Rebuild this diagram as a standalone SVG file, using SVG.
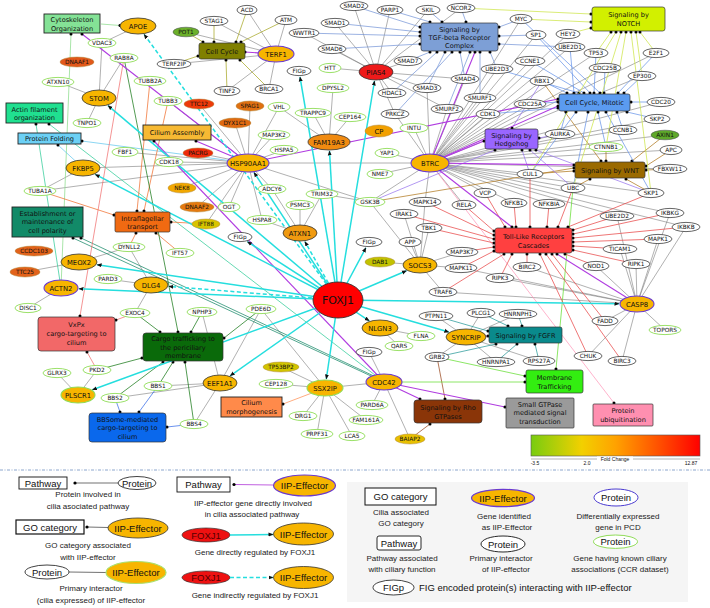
<svg xmlns="http://www.w3.org/2000/svg" width="710" height="608" viewBox="0 0 710 608">
<defs>
<marker id="dot" viewBox="0 0 4 4" refX="2" refY="2" markerWidth="3.4" markerHeight="3.4" markerUnits="userSpaceOnUse"><circle cx="2" cy="2" r="1.8" fill="#000"/></marker>
<marker id="arr" viewBox="0 0 10 10" refX="9" refY="5" markerWidth="5" markerHeight="5" markerUnits="userSpaceOnUse" orient="auto"><path d="M0,1L10,5L0,9z" fill="#111"/></marker>
<linearGradient id="fc" x1="0" x2="1" y1="0" y2="0">
<stop offset="0" stop-color="#78cc10"/><stop offset="0.3" stop-color="#f2d000"/><stop offset="0.5" stop-color="#ffa200"/><stop offset="0.75" stop-color="#ff5200"/><stop offset="1" stop-color="#ff0000"/>
</linearGradient>
</defs>
<style>
text{font-family:"DejaVu Sans",sans-serif;text-anchor:middle;fill:#111}
.t{font-size:5.8px}
.ti{font-size:6.8px}
.tb{font-size:6.6px}
.p{fill:#fff;stroke:#222;stroke-width:.7}
.c{fill:#fff;stroke:#90dc58;stroke-width:.9}
.e{fill:#f7b500;stroke:#333;stroke-width:.8}
.ep{fill:#f7b500;stroke:#6a3ad0;stroke-width:1.1}
.eg{fill:#f7b500;stroke:#90dc58;stroke-width:1.1}
.fcn{stroke:#b08a40;stroke-width:.5}
.go{stroke:#222;stroke-width:.9}
.pw{stroke:#333;stroke-width:.7}
.gr{fill:none;stroke:#707070;stroke-width:.55}
.k{fill:none;marker-end:url(#dot)}
.k line{stroke-width:.75}
.olive{stroke:#a8a828}.cyto{stroke:#8cdc8c}.actin{stroke:#33cc99}.pf{stroke:#66c8ee}.ift{stroke:#f07030}
.pol{stroke:#1a8a6a}.vx{stroke:#f07070}.cargo{stroke:#1a7a1a}.bbs{stroke:#3a6ee8}.cm{stroke:#ff9055}
.rho{stroke:#9a4a20}.mem{stroke:#66dd33}.fgfr{stroke:#2a9a9a}.ubi{stroke:#ff99bb}.tlr{stroke:#e84848}
.wnt{stroke:#b07a20}.hh{stroke:#9a77ee}.mit{stroke:#6a96e8}.notch{stroke:#cde64a}.tgf{stroke:#7a98d8}
.pu{stroke:#b03ce0}
.pu line{stroke-width:1.1}
.cy{stroke:#25dede;stroke-width:1.5;marker-end:url(#arr);fill:none}
.cyd{stroke-dasharray:4 2.5}
.lb{font-family:"Liberation Sans",Arial,sans-serif;font-size:9.5px}
.ld{font-family:"Liberation Sans",Arial,sans-serif;font-size:8px;fill:#222}
.fb{font-family:"Liberation Sans",Arial,sans-serif;font-size:5px}
</style>
<rect width="710" height="608" fill="#fff"/>
<g id="connectors">
<path class="gr" d="M276,54L247,10M276,54L286,20M276,54L214,21M276,54L186,32M276,54L174,64M276,54L227,91M276,54L269,89M138,26L102,43M99,98L102,43M99,98L124,58M99,98L58,82M99,98L87,123M248,163L169,162M248,163L199,104M248,163L250,106M248,163L235,123M248,163L198,153M248,163L279,107M248,163L274,135M248,163L284,150M248,163L229,207M248,163L197,207M248,163L182,188M248,163L262,220M248,163L272,189M248,163L168,101M248,163L125,152M248,163L40,191M248,163L83,168M248,163L430,163M248,163L206,224M248,163L370,202M83,168L40,191M329,142L279,107M329,142L313,113M329,142L350,117M329,142L333,88M376,72L354,6M376,72L335,23M376,72L332,49M376,72L408,61M376,72L390,10M376,72L428,10M376,72L330,68M376,72L304,33M376,72L392,93M376,72L427,88M376,72L465,79M376,72L395,114M376,72L447,109M376,72L461,8M430,163L427,88M430,163L465,79M430,163L447,109M430,163L480,98M430,163L497,69M430,163L570,47M430,163L530,61M430,163L530,104M430,163L488,114M430,163L542,81M430,163L530,174M430,163L651,193M430,163L573,188M430,163L670,169M430,163L514,203M430,163L549,204M430,163L485,193M430,163L464,205M430,163L425,202M430,163L370,202M430,163L606,147M430,163L671,150M430,163L665,135M430,163L657,119M430,163L661,102M430,163L623,130M430,163L560,134M430,163L617,216M430,163L670,213M430,163L686,227M430,163L605,68M430,163L596,53M430,163L642,76M430,163L521,19M430,163L536,35M430,163L568,34M430,163L395,114M430,163L387,153M430,163L414,128M430,163L380,174M430,163L656,53M300,233L272,189M300,233L300,205M300,233L322,194M300,233L262,220M370,202L322,194M370,202L420,265M420,265L410,242M420,265L429,228M420,265L404,214M420,265L462,252M420,265L461,268M420,265L443,292M420,265L380,262M420,265L425,202M637,304L605,321M637,304L665,330M637,304L636,264M637,304L620,249M637,304L596,266M637,304L658,239M637,304L686,227M637,304L670,213M637,304L527,267M637,304L622,361M637,304L588,356M637,304L500,278M637,304L443,292M637,304L461,268M637,304L617,216M466,337L436,316M466,337L437,357M466,337L496,362M466,337L518,314M466,337L481,313M466,337L539,361M380,328L421,336M380,328L399,346M384,382L369,352M384,382L372,405M384,382L410,439M384,382L325,388M325,388L281,367M325,388L276,384M325,388L303,416M325,388L317,434M325,388L352,436M325,388L366,420M325,388L261,309M220,383L158,386M220,383L115,398M220,383L194,424M220,383L202,312M220,383L261,309M151,285L108,279M151,285L129,247M151,285L135,313M79,262L25,272M79,262L129,247M61,288L28,308M78,395L97,370M78,395L57,373"/>
<g class="k olive"><line x1="214" y1="21" x2="214" y2="42"/><line x1="247" y1="10" x2="236" y2="42"/><line x1="286" y1="20" x2="241" y2="42"/><line x1="186" y1="32" x2="203" y2="42"/><line x1="174" y1="64" x2="198" y2="56"/><line x1="227" y1="91" x2="226" y2="60"/><line x1="269" y1="89" x2="240" y2="60"/></g>
<g class="k cyto"><line x1="101" y1="24" x2="120" y2="25.5"/><line x1="61" y1="288" x2="71" y2="34"/></g>
<g class="k actin"><line x1="61" y1="288" x2="36" y2="124"/><line x1="384" y1="382" x2="49" y2="124"/></g>
<g class="k pf"><line x1="248" y1="163" x2="82" y2="141"/><line x1="83" y1="168" x2="58" y2="145"/></g>
<g class="k ift"><line x1="150" y1="81" x2="137" y2="211"/><line x1="168" y1="101" x2="144" y2="211"/><line x1="206" y1="224" x2="171" y2="222"/><line x1="40" y1="191" x2="114" y2="215"/><line x1="129" y1="247" x2="136" y2="233"/><line x1="180" y1="253" x2="156" y2="233"/></g>
<g class="k pol"><line x1="384" y1="382" x2="73" y2="238"/><line x1="378" y1="378" x2="81" y2="238"/></g>
<g class="k vx"><line x1="124" y1="58" x2="80" y2="316"/><line x1="135" y1="313" x2="116" y2="320"/><line x1="97" y1="370" x2="87" y2="352"/></g>
<g class="k cargo"><line x1="124" y1="58" x2="178" y2="332"/><line x1="135" y1="313" x2="160" y2="332"/><line x1="202" y1="312" x2="191" y2="332"/><line x1="261" y1="309" x2="224" y2="338"/><line x1="97" y1="370" x2="142" y2="358"/><line x1="158" y1="386" x2="173" y2="362"/><line x1="115" y1="398" x2="163" y2="362"/><line x1="194" y1="424" x2="185" y2="362"/></g>
<g class="k bbs"><line x1="115" y1="398" x2="120" y2="412"/><line x1="158" y1="386" x2="139" y2="412"/><line x1="194" y1="424" x2="167" y2="427"/></g>
<g class="k cm"><line x1="325" y1="388" x2="283" y2="404"/></g>
<g class="k rho"><line x1="437" y1="357" x2="445" y2="399"/><line x1="410" y1="439" x2="430" y2="424"/></g>
<g class="k mem"><line x1="384" y1="382" x2="525" y2="382"/><line x1="437" y1="357" x2="525" y2="376"/><line x1="573" y1="188" x2="556" y2="369"/></g>
<g class="k fgfr"><line x1="481" y1="313" x2="508" y2="326"/><line x1="518" y1="314" x2="522" y2="326"/><line x1="496" y1="362" x2="517" y2="344"/><line x1="539" y1="361" x2="535" y2="344"/><line x1="437" y1="357" x2="496" y2="344"/><line x1="436" y1="316" x2="488" y2="331"/></g>
<g class="k ubi"><line x1="430" y1="163" x2="614" y2="403"/></g>
<g class="k tlr"><line x1="530" y1="174" x2="530" y2="227"/><line x1="514" y1="203" x2="516" y2="227"/><line x1="549" y1="204" x2="547" y2="227"/><line x1="485" y1="193" x2="505" y2="227"/><line x1="573" y1="188" x2="558" y2="227"/><line x1="651" y1="193" x2="568" y2="227"/><line x1="617" y1="216" x2="573" y2="230"/><line x1="670" y1="213" x2="573" y2="234"/><line x1="686" y1="227" x2="573" y2="238"/><line x1="658" y1="239" x2="573" y2="242"/><line x1="620" y1="249" x2="573" y2="246"/><line x1="636" y1="264" x2="573" y2="250"/><line x1="596" y1="266" x2="565" y2="254"/><line x1="605" y1="321" x2="552" y2="254"/><line x1="622" y1="361" x2="546" y2="254"/><line x1="588" y1="356" x2="540" y2="254"/><line x1="527" y1="267" x2="527" y2="254"/><line x1="500" y1="278" x2="512" y2="254"/><line x1="443" y1="292" x2="504" y2="254"/><line x1="461" y1="268" x2="494" y2="251"/><line x1="462" y1="252" x2="494" y2="247"/><line x1="429" y1="228" x2="494" y2="243"/><line x1="404" y1="214" x2="494" y2="239"/><line x1="425" y1="202" x2="494" y2="235"/><line x1="464" y1="205" x2="494" y2="231"/></g>
<g class="k wnt"><line x1="530" y1="174" x2="574" y2="171"/><line x1="370" y1="202" x2="574" y2="168"/><line x1="573" y1="188" x2="590" y2="179"/><line x1="651" y1="193" x2="626" y2="179"/><line x1="670" y1="169" x2="646" y2="170"/><line x1="665" y1="135" x2="632" y2="161"/><line x1="671" y1="150" x2="646" y2="166"/><line x1="606" y1="147" x2="606" y2="161"/><line x1="542" y1="81" x2="601" y2="161"/></g>
<g class="k hh"><line x1="542" y1="81" x2="512" y2="128"/><line x1="530" y1="174" x2="522" y2="150"/><line x1="651" y1="193" x2="536" y2="150"/><line x1="573" y1="188" x2="530" y2="150"/><line x1="370" y1="202" x2="495" y2="150"/><line x1="560" y1="134" x2="539" y2="138"/></g>
<g class="k mit"><line x1="570" y1="47" x2="574" y2="93"/><line x1="596" y1="53" x2="594" y2="93"/><line x1="605" y1="68" x2="604" y2="93"/><line x1="530" y1="61" x2="584" y2="93"/><line x1="542" y1="81" x2="567" y2="93"/><line x1="656" y1="53" x2="618" y2="93"/><line x1="642" y1="76" x2="624" y2="93"/><line x1="521" y1="19" x2="600" y2="93"/><line x1="536" y1="35" x2="590" y2="93"/><line x1="497" y1="69" x2="579" y2="93"/><line x1="530" y1="104" x2="558" y2="102"/><line x1="488" y1="114" x2="558" y2="108"/><line x1="661" y1="102" x2="631" y2="102"/><line x1="657" y1="119" x2="627" y2="112"/><line x1="623" y1="130" x2="617" y2="112"/><line x1="560" y1="134" x2="566" y2="112"/><line x1="530" y1="174" x2="576" y2="112"/><line x1="651" y1="193" x2="606" y2="112"/><line x1="573" y1="188" x2="588" y2="112"/><line x1="606" y1="147" x2="598" y2="112"/></g>
<g class="k notch"><line x1="461" y1="8" x2="591" y2="14"/><line x1="521" y1="19" x2="591" y2="22"/><line x1="568" y1="34" x2="591" y2="28"/><line x1="596" y1="53" x2="611" y2="32"/><line x1="656" y1="53" x2="640" y2="32"/><line x1="642" y1="76" x2="636" y2="32"/><line x1="530" y1="174" x2="616" y2="32"/><line x1="573" y1="188" x2="621" y2="32"/><line x1="651" y1="193" x2="631" y2="32"/><line x1="606" y1="147" x2="626" y2="32"/></g>
<g class="k tgf"><line x1="354" y1="6" x2="420" y2="27"/><line x1="390" y1="10" x2="430" y2="22"/><line x1="428" y1="10" x2="442" y2="22"/><line x1="461" y1="8" x2="466" y2="22"/><line x1="521" y1="19" x2="499" y2="27"/><line x1="536" y1="35" x2="499" y2="36"/><line x1="335" y1="23" x2="420" y2="32"/><line x1="304" y1="33" x2="420" y2="36"/><line x1="332" y1="49" x2="420" y2="44"/><line x1="408" y1="61" x2="430" y2="52"/><line x1="392" y1="93" x2="437" y2="52"/><line x1="427" y1="88" x2="445" y2="52"/><line x1="395" y1="114" x2="452" y2="52"/><line x1="465" y1="79" x2="460" y2="52"/><line x1="447" y1="109" x2="470" y2="52"/><line x1="480" y1="98" x2="480" y2="52"/><line x1="497" y1="69" x2="490" y2="52"/><line x1="570" y1="47" x2="499" y2="44"/></g>
<g class="k pu"><line x1="276" y1="54" x2="245" y2="52"/><line x1="248" y1="163" x2="82" y2="34"/><line x1="384" y1="382" x2="154" y2="141"/><line x1="248" y1="163" x2="196" y2="141"/><line x1="384" y1="382" x2="420" y2="399"/><line x1="384" y1="382" x2="505" y2="407"/><line x1="466" y1="337" x2="488" y2="336"/><line x1="637" y1="304" x2="557" y2="254"/><line x1="430" y1="163" x2="512" y2="227"/><line x1="430" y1="163" x2="574" y2="165"/><line x1="430" y1="163" x2="484" y2="141"/><line x1="430" y1="163" x2="558" y2="106"/><line x1="248" y1="163" x2="558" y2="99"/><line x1="430" y1="163" x2="475" y2="52"/></g>
<g class="cy"><line x1="338" y1="300" x2="300" y2="77"/><line x1="338" y1="300" x2="374.5" y2="81"/><line x1="338" y1="300" x2="329.5" y2="151"/><line x1="338" y1="300" x2="254" y2="172.5"/><line x1="338" y1="300" x2="108" y2="105.6"/><line x1="338" y1="300" x2="95.3" y2="174.4"/><line x1="338" y1="300" x2="97.1" y2="264.7"/><line x1="338" y1="300" x2="79" y2="288.8"/><line x1="338" y1="300" x2="92.4" y2="389.8"/><line x1="338" y1="300" x2="230.2" y2="375.8"/><line x1="338" y1="300" x2="326.3" y2="379"/><line x1="338" y1="300" x2="369.2" y2="320.8"/><line x1="338" y1="300" x2="448.8" y2="332"/><line x1="338" y1="300" x2="619" y2="303.8"/><line x1="338" y1="300" x2="406.5" y2="270.8"/><line x1="338" y1="300" x2="365.9" y2="247.8"/><line x1="338" y1="300" x2="247.4" y2="241.7"/></g>
<g class="cy cyd"><line x1="338" y1="300" x2="144.1" y2="34.4"/><line x1="338" y1="300" x2="304.9" y2="241.6"/><line x1="338" y1="300" x2="168.8" y2="286.4"/></g>
</g>
<g id="nodes">
<g id="cyto"><rect class="go" x="44" y="14" width="56" height="19" fill="#84e296"/><text class="tb" x="72" y="22">Cytoskeleton</text><text class="tb" x="72" y="30.5">Organization</text></g>
<g id="notch"><rect class="pw" x="592" y="7" width="73" height="24" rx="2.5" fill="#d2f000"/><text class="tb" x="628.5" y="17">Signaling by</text><text class="tb" x="628.5" y="26">NOTCH</text></g>
<g id="cellcycle"><rect class="pw" x="199" y="43" width="46" height="16" rx="2" fill="#808000"/><text class="tb" x="222" y="53.5">Cell Cycle</text></g>
<g id="tgf"><rect class="pw" x="421" y="23" width="77" height="28" rx="2.5" fill="#7d9fd6"/><text class="tb" x="459.5" y="31.5">Signaling by</text><text class="tb" x="459.5" y="39.5">TGF-beta Receptor</text><text class="tb" x="459.5" y="47.5">Complex</text></g>
<g id="mitotic"><rect class="pw" x="559" y="94" width="71" height="17" rx="2" fill="#5b9bf0"/><text class="tb" x="594.5" y="104.8">Cell Cycle, Mitotic</text></g>
<g id="hedgehog"><rect class="pw" x="485" y="129" width="53" height="20" rx="2" fill="#9966ff"/><text class="tb" x="511.5" y="137.5">Signaling by</text><text class="tb" x="511.5" y="146">Hedgehog</text></g>
<g id="wnt"><rect class="pw" x="575" y="162" width="70" height="16" rx="2" fill="#9a6a00"/><text class="tb" x="610" y="172.5">Signaling by WNT</text></g>
<g id="tlr"><rect class="pw" x="495" y="228" width="77" height="25" rx="2.5" fill="#ff4040"/><text class="tb" x="533.5" y="239">Toll-Like Receptors</text><text class="tb" x="533.5" y="248">Cascades</text></g>
<g id="cilasm"><rect class="go" x="143" y="125" width="68" height="15" fill="#f6b933"/><text class="tb" x="177" y="135">Cilium Assembly</text></g>
<g id="actin"><rect class="go" x="6" y="103" width="57" height="20" fill="#20e090"/><text class="tb" x="34.5" y="111.5">Actin filament</text><text class="tb" x="34.5" y="120">organization</text></g>
<g id="protfold"><rect class="go" x="18" y="133" width="63" height="11" fill="#6cd0f5"/><text class="tb" x="49.5" y="141">Protein Folding</text></g>
<g id="ift"><rect class="pw" x="115" y="212" width="55" height="20" rx="1.5" fill="#f06a12"/><text class="tb" x="142.5" y="220.5">Intraflagellar</text><text class="tb" x="142.5" y="229">transport</text></g>
<g id="polarity"><rect class="go" x="12" y="207" width="71" height="30" fill="#128a68"/><text class="tb" x="47.5" y="215.5">Establishment or</text><text class="tb" x="47.5" y="224.2">maintenance of</text><text class="tb" x="47.5" y="233">cell polarity</text></g>
<g id="vxpx"><rect class="pw" x="38" y="317" width="77" height="34" rx="3" fill="#f26868"/><text class="tb" x="76.5" y="326.5">VxPx</text><text class="tb" x="76.5" y="335.5">cargo-targeting to</text><text class="tb" x="76.5" y="344.5">cilium</text></g>
<g id="cargo"><rect class="pw" x="143" y="333" width="80" height="28" rx="3" fill="#0a6a0a"/><text class="tb" x="183" y="341">Cargo trafficking to</text><text class="tb" x="183" y="349.5">the periciliary</text><text class="tb" x="183" y="358">membrane</text></g>
<g id="bbsome"><rect class="pw" x="89" y="413" width="77" height="29" rx="3" fill="#0a68ec"/><text class="tb" x="127.5" y="421.5">BBSome-mediated</text><text class="tb" x="127.5" y="430">cargo-targeting to</text><text class="tb" x="127.5" y="438.5">cilium</text></g>
<g id="cilmorph"><rect class="go" x="221" y="397" width="61" height="20" fill="#ff8a4a"/><text class="tb" x="251.5" y="405">Cilium</text><text class="tb" x="251.5" y="414">morphogenesis</text></g>
<g id="rho"><rect class="pw" x="414" y="400" width="68" height="23" rx="3" fill="#8a3508"/><text class="tb" x="448" y="409.5">Signaling by Rho</text><text class="tb" x="448" y="418.5">GTPases</text></g>
<g id="fgfr"><rect class="pw" x="489" y="327" width="73" height="16" rx="2" fill="#0a8a8c"/><text class="tb" x="525.5" y="337.5">Signaling by FGFR</text></g>
<g id="memtraf"><rect class="pw" x="526" y="370" width="57" height="23" rx="2" fill="#33ee11"/><text class="tb" x="554.5" y="379.5">Membrane</text><text class="tb" x="554.5" y="388.5">Trafficking</text></g>
<g id="smallgtp"><rect class="pw" x="506" y="398" width="68" height="30" rx="1" fill="#9a9a9a"/><text class="tb" x="540" y="406.5">Small GTPase</text><text class="tb" x="540" y="415.2">mediated signal</text><text class="tb" x="540" y="424">transduction</text></g>
<g id="protubi"><rect class="pw" x="593" y="404" width="60" height="22" rx="1" fill="#ff8fb0"/><text class="tb" x="623" y="413">Protein</text><text class="tb" x="623" y="422">ubiquitination</text></g>
<g id="n_ACD"><ellipse class="p" cx="247" cy="10" rx="10" ry="4.6"/><text class="t" x="247" y="12">ACD</text></g>
<g id="n_STAG1"><ellipse class="p" cx="214" cy="21" rx="14" ry="4.6"/><text class="t" x="214" y="23">STAG1</text></g>
<g id="n_ATM"><ellipse class="p" cx="286" cy="20" rx="11" ry="4.6"/><text class="t" x="286" y="22">ATM</text></g>
<g id="n_SMAD2"><ellipse class="p" cx="354" cy="6" rx="14" ry="4.6"/><text class="t" x="354" y="8">SMAD2</text></g>
<g id="n_PARP1"><ellipse class="p" cx="390" cy="10" rx="13" ry="4.6"/><text class="t" x="390" y="12">PARP1</text></g>
<g id="n_SKIL"><ellipse class="p" cx="428" cy="10" rx="12" ry="4.6"/><text class="t" x="428" y="12">SKIL</text></g>
<g id="n_NCOR2"><ellipse class="p" cx="461" cy="8" rx="14" ry="4.6"/><text class="t" x="461" y="10">NCOR2</text></g>
<g id="n_MYC"><ellipse class="p" cx="521" cy="19" rx="11" ry="4.6"/><text class="t" x="521" y="21">MYC</text></g>
<g id="n_SMAD1"><ellipse class="p" cx="335" cy="23" rx="14" ry="4.6"/><text class="t" x="335" y="25">SMAD1</text></g>
<g id="n_WWTR1"><ellipse class="p" cx="304" cy="33" rx="15" ry="4.6"/><text class="t" x="304" y="35">WWTR1</text></g>
<g id="n_SMAD6"><ellipse class="p" cx="332" cy="49" rx="14" ry="4.6"/><text class="t" x="332" y="51">SMAD6</text></g>
<g id="n_SMAD7"><ellipse class="p" cx="408" cy="61" rx="14" ry="4.6"/><text class="t" x="408" y="63">SMAD7</text></g>
<g id="n_SP1"><ellipse class="p" cx="536" cy="35" rx="10" ry="4.6"/><text class="t" x="536" y="37">SP1</text></g>
<g id="n_HEY2"><ellipse class="p" cx="568" cy="34" rx="12" ry="4.6"/><text class="t" x="568" y="36">HEY2</text></g>
<g id="n_UBE2D1"><ellipse class="p" cx="570" cy="47" rx="15" ry="4.6"/><text class="t" x="570" y="49">UBE2D1</text></g>
<g id="n_TP53"><ellipse class="p" cx="596" cy="53" rx="12" ry="4.6"/><text class="t" x="596" y="55">TP53</text></g>
<g id="n_E2F1"><ellipse class="p" cx="656" cy="53" rx="13" ry="4.6"/><text class="t" x="656" y="55">E2F1</text></g>
<g id="n_CDC25B"><ellipse class="p" cx="605" cy="68" rx="16" ry="4.6"/><text class="t" x="605" y="70">CDC25B</text></g>
<g id="n_CCNE1"><ellipse class="p" cx="530" cy="61" rx="15" ry="4.6"/><text class="t" x="530" y="63">CCNE1</text></g>
<g id="n_UBE2D3"><ellipse class="p" cx="497" cy="69" rx="16" ry="4.6"/><text class="t" x="497" y="71">UBE2D3</text></g>
<g id="n_EP300"><ellipse class="p" cx="642" cy="76" rx="14" ry="4.6"/><text class="t" x="642" y="78">EP300</text></g>
<g id="n_RBX1"><ellipse class="p" cx="542" cy="81" rx="12" ry="4.6"/><text class="t" x="542" y="83">RBX1</text></g>
<g id="n_SMAD4"><ellipse class="p" cx="465" cy="79" rx="14" ry="4.6"/><text class="t" x="465" y="81">SMAD4</text></g>
<g id="n_SMAD3"><ellipse class="p" cx="427" cy="88" rx="14" ry="4.6"/><text class="t" x="427" y="90">SMAD3</text></g>
<g id="n_HDAC1"><ellipse class="p" cx="392" cy="93" rx="14" ry="4.6"/><text class="t" x="392" y="95">HDAC1</text></g>
<g id="n_FIGp1"><ellipse class="p" cx="299" cy="71" rx="12" ry="4.6"/><text class="t" x="299" y="73">FIGp</text></g>
<g id="n_BRCA1"><ellipse class="p" cx="269" cy="89" rx="14" ry="4.6"/><text class="t" x="269" y="91">BRCA1</text></g>
<g id="n_TINF2"><ellipse class="p" cx="227" cy="91" rx="13" ry="4.6"/><text class="t" x="227" y="93">TINF2</text></g>
<g id="n_TERF2IP"><ellipse class="p" cx="174" cy="64" rx="17" ry="4.6"/><text class="t" x="174" y="66">TERF2IP</text></g>
<g id="n_SMURF2"><ellipse class="p" cx="447" cy="109" rx="16" ry="4.6"/><text class="t" x="447" y="111">SMURF2</text></g>
<g id="n_SMURF1"><ellipse class="p" cx="480" cy="98" rx="16" ry="4.6"/><text class="t" x="480" y="100">SMURF1</text></g>
<g id="n_CDK1"><ellipse class="p" cx="488" cy="114" rx="12" ry="4.6"/><text class="t" x="488" y="116">CDK1</text></g>
<g id="n_CDC25A"><ellipse class="p" cx="530" cy="104" rx="16" ry="4.6"/><text class="t" x="530" y="106">CDC25A</text></g>
<g id="n_CDC20"><ellipse class="p" cx="661" cy="102" rx="14" ry="4.6"/><text class="t" x="661" y="104">CDC20</text></g>
<g id="n_SKP2"><ellipse class="p" cx="657" cy="119" rx="13" ry="4.6"/><text class="t" x="657" y="121">SKP2</text></g>
<g id="n_APC"><ellipse class="p" cx="671" cy="150" rx="11" ry="4.6"/><text class="t" x="671" y="152">APC</text></g>
<g id="n_CCNB1"><ellipse class="p" cx="623" cy="130" rx="14" ry="4.6"/><text class="t" x="623" y="132">CCNB1</text></g>
<g id="n_AURKA"><ellipse class="p" cx="560" cy="134" rx="15" ry="4.6"/><text class="t" x="560" y="136">AURKA</text></g>
<g id="n_PRKCZ"><ellipse class="p" cx="395" cy="114" rx="14" ry="4.6"/><text class="t" x="395" y="116">PRKCZ</text></g>
<g id="n_FIGp2"><ellipse class="p" cx="240" cy="237" rx="12" ry="4.6"/><text class="t" x="240" y="239">FIGp</text></g>
<g id="n_FIGp3"><ellipse class="p" cx="369" cy="242" rx="13" ry="4.6"/><text class="t" x="369" y="244">FIGp</text></g>
<g id="n_MAPK14"><ellipse class="p" cx="425" cy="202" rx="16" ry="4.6"/><text class="t" x="425" y="204">MAPK14</text></g>
<g id="n_IRAK1"><ellipse class="p" cx="404" cy="214" rx="14" ry="4.6"/><text class="t" x="404" y="216">IRAK1</text></g>
<g id="n_RELA"><ellipse class="p" cx="464" cy="205" rx="12" ry="4.6"/><text class="t" x="464" y="207">RELA</text></g>
<g id="n_TBK1"><ellipse class="p" cx="429" cy="228" rx="13" ry="4.6"/><text class="t" x="429" y="230">TBK1</text></g>
<g id="n_APP"><ellipse class="p" cx="410" cy="242" rx="11" ry="4.6"/><text class="t" x="410" y="244">APP</text></g>
<g id="n_MAP3K7"><ellipse class="p" cx="462" cy="252" rx="16" ry="4.6"/><text class="t" x="462" y="254">MAP3K7</text></g>
<g id="n_MAPK11"><ellipse class="p" cx="461" cy="268" rx="16" ry="4.6"/><text class="t" x="461" y="270">MAPK11</text></g>
<g id="n_TRAF6"><ellipse class="p" cx="443" cy="292" rx="14" ry="4.6"/><text class="t" x="443" y="294">TRAF6</text></g>
<g id="n_VCP"><ellipse class="p" cx="485" cy="193" rx="11" ry="4.6"/><text class="t" x="485" y="195">VCP</text></g>
<g id="n_CUL1"><ellipse class="p" cx="530" cy="174" rx="13" ry="4.6"/><text class="t" x="530" y="176">CUL1</text></g>
<g id="n_UBC"><ellipse class="p" cx="573" cy="188" rx="12" ry="4.6"/><text class="t" x="573" y="190">UBC</text></g>
<g id="n_SKP1"><ellipse class="p" cx="651" cy="193" rx="13" ry="4.6"/><text class="t" x="651" y="195">SKP1</text></g>
<g id="n_FBXW11"><ellipse class="p" cx="670" cy="169" rx="17" ry="4.6"/><text class="t" x="670" y="171">FBXW11</text></g>
<g id="n_NFKB1"><ellipse class="p" cx="514" cy="203" rx="13" ry="4.6"/><text class="t" x="514" y="205">NFKB1</text></g>
<g id="n_NFKBIA"><ellipse class="p" cx="549" cy="204" rx="16" ry="4.6"/><text class="t" x="549" y="206">NFKBIA</text></g>
<g id="n_UBE2D2"><ellipse class="p" cx="617" cy="216" rx="17" ry="4.6"/><text class="t" x="617" y="218">UBE2D2</text></g>
<g id="n_IKBKG"><ellipse class="p" cx="670" cy="213" rx="14" ry="4.6"/><text class="t" x="670" y="215">IKBKG</text></g>
<g id="n_IKBKB"><ellipse class="p" cx="686" cy="227" rx="14" ry="4.6"/><text class="t" x="686" y="229">IKBKB</text></g>
<g id="n_MAPK1"><ellipse class="p" cx="658" cy="239" rx="14" ry="4.6"/><text class="t" x="658" y="241">MAPK1</text></g>
<g id="n_TICAM1"><ellipse class="p" cx="620" cy="249" rx="17" ry="4.6"/><text class="t" x="620" y="251">TICAM1</text></g>
<g id="n_RIPK1"><ellipse class="p" cx="636" cy="264" rx="14" ry="4.6"/><text class="t" x="636" y="266">RIPK1</text></g>
<g id="n_NOD1"><ellipse class="p" cx="596" cy="266" rx="13" ry="4.6"/><text class="t" x="596" y="268">NOD1</text></g>
<g id="n_BIRC2"><ellipse class="p" cx="527" cy="267" rx="14" ry="4.6"/><text class="t" x="527" y="269">BIRC2</text></g>
<g id="n_RIPK3"><ellipse class="p" cx="500" cy="278" rx="14" ry="4.6"/><text class="t" x="500" y="280">RIPK3</text></g>
<g id="n_FADD"><ellipse class="p" cx="605" cy="321" rx="13" ry="4.6"/><text class="t" x="605" y="323">FADD</text></g>
<g id="n_CHUK"><ellipse class="p" cx="588" cy="356" rx="14" ry="4.6"/><text class="t" x="588" y="358">CHUK</text></g>
<g id="n_BIRC3"><ellipse class="p" cx="622" cy="361" rx="14" ry="4.6"/><text class="t" x="622" y="363">BIRC3</text></g>
<g id="n_PTPN11"><ellipse class="p" cx="436" cy="316" rx="17" ry="4.6"/><text class="t" x="436" y="318">PTPN11</text></g>
<g id="n_PLCG1"><ellipse class="p" cx="481" cy="313" rx="14" ry="4.6"/><text class="t" x="481" y="315">PLCG1</text></g>
<g id="n_HNRNPH1"><ellipse class="p" cx="518" cy="314" rx="19" ry="4.6"/><text class="t" x="518" y="316">HNRNPH1</text></g>
<g id="n_GRB2"><ellipse class="p" cx="437" cy="357" rx="12" ry="4.6"/><text class="t" x="437" y="359">GRB2</text></g>
<g id="n_HNRNPA1"><ellipse class="p" cx="496" cy="362" rx="19" ry="4.6"/><text class="t" x="496" y="364">HNRNPA1</text></g>
<g id="n_RPS27A"><ellipse class="p" cx="539" cy="361" rx="16" ry="4.6"/><text class="t" x="539" y="363">RPS27A</text></g>
<g id="n_FIGp4"><ellipse class="p" cx="369" cy="352" rx="13" ry="4.6"/><text class="t" x="369" y="354">FIGp</text></g>
<g id="n_HTT"><ellipse class="c" cx="330" cy="68" rx="11" ry="4.6"/><text class="t" x="330" y="70">HTT</text></g>
<g id="n_DPYSL2"><ellipse class="c" cx="333" cy="88" rx="16" ry="4.6"/><text class="t" x="333" y="90">DPYSL2</text></g>
<g id="n_CTNNB1"><ellipse class="c" cx="606" cy="147" rx="17" ry="4.6"/><text class="t" x="606" y="149">CTNNB1</text></g>
<g id="n_INTU"><ellipse class="c" cx="414" cy="128" rx="14" ry="4.6"/><text class="t" x="414" y="130">INTU</text></g>
<g id="n_CEP164"><ellipse class="c" cx="350" cy="117" rx="16" ry="4.6"/><text class="t" x="350" y="119">CEP164</text></g>
<g id="n_TRAPPC9"><ellipse class="c" cx="313" cy="113" rx="18" ry="4.6"/><text class="t" x="313" y="115">TRAPPC9</text></g>
<g id="n_VHL"><ellipse class="c" cx="279" cy="107" rx="11" ry="4.6"/><text class="t" x="279" y="109">VHL</text></g>
<g id="n_MAP3K2"><ellipse class="c" cx="274" cy="135" rx="16" ry="4.6"/><text class="t" x="274" y="137">MAP3K2</text></g>
<g id="n_HSPA5"><ellipse class="c" cx="284" cy="150" rx="14" ry="4.6"/><text class="t" x="284" y="152">HSPA5</text></g>
<g id="n_YAP1"><ellipse class="c" cx="387" cy="153" rx="12" ry="4.6"/><text class="t" x="387" y="155">YAP1</text></g>
<g id="n_NME7"><ellipse class="c" cx="380" cy="174" rx="13" ry="4.6"/><text class="t" x="380" y="176">NME7</text></g>
<g id="n_GSK3B"><ellipse class="c" cx="370" cy="202" rx="15" ry="4.6"/><text class="t" x="370" y="204">GSK3B</text></g>
<g id="n_ADCY6"><ellipse class="c" cx="272" cy="189" rx="14" ry="4.6"/><text class="t" x="272" y="191">ADCY6</text></g>
<g id="n_TRIM32"><ellipse class="c" cx="322" cy="194" rx="16" ry="4.6"/><text class="t" x="322" y="196">TRIM32</text></g>
<g id="n_PSMC3"><ellipse class="c" cx="300" cy="205" rx="14" ry="4.6"/><text class="t" x="300" y="207">PSMC3</text></g>
<g id="n_HSPA8"><ellipse class="c" cx="262" cy="220" rx="15" ry="4.6"/><text class="t" x="262" y="222">HSPA8</text></g>
<g id="n_TOPORS"><ellipse class="c" cx="665" cy="330" rx="16" ry="4.6"/><text class="t" x="665" y="332">TOPORS</text></g>
<g id="n_FLNA"><ellipse class="c" cx="421" cy="336" rx="14" ry="4.6"/><text class="t" x="421" y="338">FLNA</text></g>
<g id="n_QARS"><ellipse class="c" cx="399" cy="346" rx="14" ry="4.6"/><text class="t" x="399" y="348">QARS</text></g>
<g id="n_CEP128"><ellipse class="c" cx="276" cy="384" rx="17" ry="4.6"/><text class="t" x="276" y="386">CEP128</text></g>
<g id="n_PARD6A"><ellipse class="c" cx="372" cy="405" rx="16" ry="4.6"/><text class="t" x="372" y="407">PARD6A</text></g>
<g id="n_FAM161A"><ellipse class="c" cx="366" cy="420" rx="17" ry="4.6"/><text class="t" x="366" y="422">FAM161A</text></g>
<g id="n_DRG1"><ellipse class="c" cx="303" cy="416" rx="14" ry="4.6"/><text class="t" x="303" y="418">DRG1</text></g>
<g id="n_PRPF31"><ellipse class="c" cx="317" cy="434" rx="16" ry="4.6"/><text class="t" x="317" y="436">PRPF31</text></g>
<g id="n_LCA5"><ellipse class="c" cx="352" cy="436" rx="13" ry="4.6"/><text class="t" x="352" y="438">LCA5</text></g>
<g id="n_BBS1"><ellipse class="c" cx="158" cy="386" rx="14" ry="4.6"/><text class="t" x="158" y="388">BBS1</text></g>
<g id="n_BBS2"><ellipse class="c" cx="115" cy="398" rx="14" ry="4.6"/><text class="t" x="115" y="400">BBS2</text></g>
<g id="n_BBS4"><ellipse class="c" cx="194" cy="424" rx="14" ry="4.6"/><text class="t" x="194" y="426">BBS4</text></g>
<g id="n_PKD2"><ellipse class="c" cx="97" cy="370" rx="14" ry="4.6"/><text class="t" x="97" y="372">PKD2</text></g>
<g id="n_GLRX3"><ellipse class="c" cx="57" cy="373" rx="14" ry="4.6"/><text class="t" x="57" y="375">GLRX3</text></g>
<g id="n_EXOC4"><ellipse class="c" cx="135" cy="313" rx="15" ry="4.6"/><text class="t" x="135" y="315">EXOC4</text></g>
<g id="n_NPHP3"><ellipse class="c" cx="202" cy="312" rx="15" ry="4.6"/><text class="t" x="202" y="314">NPHP3</text></g>
<g id="n_PDE6D"><ellipse class="c" cx="261" cy="309" rx="15" ry="4.6"/><text class="t" x="261" y="311">PDE6D</text></g>
<g id="n_DISC1"><ellipse class="c" cx="28" cy="308" rx="13" ry="4.6"/><text class="t" x="28" y="310">DISC1</text></g>
<g id="n_PARD3"><ellipse class="c" cx="108" cy="279" rx="14" ry="4.6"/><text class="t" x="108" y="281">PARD3</text></g>
<g id="n_DYNLL2"><ellipse class="c" cx="129" cy="247" rx="16" ry="4.6"/><text class="t" x="129" y="249">DYNLL2</text></g>
<g id="n_IFT57"><ellipse class="c" cx="180" cy="253" rx="14" ry="4.6"/><text class="t" x="180" y="255">IFT57</text></g>
<g id="n_OGT"><ellipse class="c" cx="229" cy="207" rx="11" ry="4.6"/><text class="t" x="229" y="209">OGT</text></g>
<g id="n_CDK18"><ellipse class="c" cx="169" cy="162" rx="14" ry="4.6"/><text class="t" x="169" y="164">CDK18</text></g>
<g id="n_TUBA1A"><ellipse class="c" cx="40" cy="191" rx="16" ry="4.6"/><text class="t" x="40" y="193">TUBA1A</text></g>
<g id="n_FBF1"><ellipse class="c" cx="125" cy="152" rx="13" ry="4.6"/><text class="t" x="125" y="154">FBF1</text></g>
<g id="n_TUBB3"><ellipse class="c" cx="168" cy="101" rx="14" ry="4.6"/><text class="t" x="168" y="103">TUBB3</text></g>
<g id="n_TUBB2A"><ellipse class="c" cx="150" cy="81" rx="16" ry="4.6"/><text class="t" x="150" y="83">TUBB2A</text></g>
<g id="n_TNPO1"><ellipse class="c" cx="87" cy="123" rx="14" ry="4.6"/><text class="t" x="87" y="125">TNPO1</text></g>
<g id="n_ATXN10"><ellipse class="c" cx="58" cy="82" rx="16" ry="4.6"/><text class="t" x="58" y="84">ATXN10</text></g>
<g id="n_RAB8A"><ellipse class="c" cx="124" cy="58" rx="14" ry="4.6"/><text class="t" x="124" y="60">RAB8A</text></g>
<g id="n_VDAC3"><ellipse class="c" cx="102" cy="43" rx="14" ry="4.6"/><text class="t" x="102" y="45">VDAC3</text></g>
<g id="n_POT1"><ellipse class="fcn" cx="186" cy="32" rx="13" ry="4.8" fill="#6bb02a" style="stroke:#445"/><text class="t" x="186" y="34">POT1</text></g>
<g id="n_AXIN1"><ellipse class="fcn" cx="665" cy="135" rx="14" ry="4.8" fill="#5ea82a" style="stroke:#445"/><text class="t" x="665" y="137">AXIN1</text></g>
<g id="n_DNAAF1"><ellipse class="fcn" cx="77" cy="62" rx="17" ry="5" fill="#e2581a"/><text class="t" x="77" y="64">DNAAF1</text></g>
<g id="n_TTC12"><ellipse class="fcn" cx="199" cy="104" rx="15" ry="5" fill="#ee3a0a"/><text class="t" x="199" y="106">TTC12</text></g>
<g id="n_SPAG1"><ellipse class="fcn" cx="250" cy="106" rx="14" ry="5" fill="#e07010"/><text class="t" x="250" y="108">SPAG1</text></g>
<g id="n_DYX1C1"><ellipse class="fcn" cx="235" cy="123" rx="16" ry="5" fill="#e06a10"/><text class="t" x="235" y="125">DYX1C1</text></g>
<g id="n_PACRG"><ellipse class="fcn" cx="198" cy="153" rx="15" ry="5" fill="#ee2a0a"/><text class="t" x="198" y="155">PACRG</text></g>
<g id="n_NEK8"><ellipse class="fcn" cx="182" cy="188" rx="14" ry="5" fill="#f2a800"/><text class="t" x="182" y="190">NEK8</text></g>
<g id="n_DNAAF2"><ellipse class="fcn" cx="197" cy="207" rx="17" ry="5" fill="#e57a10"/><text class="t" x="197" y="209">DNAAF2</text></g>
<g id="n_IFT88"><ellipse class="fcn" cx="206" cy="224" rx="14" ry="5" fill="#d8c400"/><text class="t" x="206" y="226">IFT88</text></g>
<g id="n_CCDC103"><ellipse class="fcn" cx="34" cy="251" rx="19" ry="5" fill="#e2621a"/><text class="t" x="34" y="253">CCDC103</text></g>
<g id="n_TTC25"><ellipse class="fcn" cx="25" cy="272" rx="15" ry="5" fill="#e2621a"/><text class="t" x="25" y="274">TTC25</text></g>
<g id="n_DAB1"><ellipse class="fcn" cx="380" cy="262" rx="15" ry="5" fill="#c2c200"/><text class="t" x="380" y="264">DAB1</text></g>
<g id="n_TP53BP2"><ellipse class="fcn" cx="281" cy="367" rx="18" ry="5" fill="#d2c400"/><text class="t" x="281" y="369">TP53BP2</text></g>
<g id="n_BAIAP2"><ellipse class="fcn" cx="410" cy="439" rx="15" ry="5" fill="#e8c000"/><text class="t" x="410" y="441">BAIAP2</text></g>
<g id="n_CP"><ellipse class="fcn" cx="379" cy="131" rx="14" ry="6" fill="#f2a000"/><text class="ti" x="379" y="133.5">CP</text></g>
<g id="n_APOE"><ellipse class="e" cx="138" cy="26" rx="18" ry="8"/><text class="ti" x="138" y="28.5">APOE</text></g>
<g id="n_STOM"><ellipse class="e" cx="99" cy="98" rx="17" ry="8"/><text class="ti" x="99" y="100.5">STOM</text></g>
<g id="n_TERF1"><ellipse class="ep" cx="276" cy="54" rx="18" ry="8"/><text class="ti" x="276" y="56.5">TERF1</text></g>
<g id="n_PIAS4"><ellipse class="e" cx="376" cy="72" rx="17" ry="8" style="fill:#ee1a1a"/><text class="ti" x="376" y="74.5">PIAS4</text></g>
<g id="n_HSP90AA1"><ellipse class="ep" cx="248" cy="163" rx="21" ry="9"/><text class="ti" x="248" y="165.5">HSP90AA1</text></g>
<g id="n_FAM19A3"><ellipse class="e" cx="329" cy="142" rx="21" ry="8" style="fill:#f08a10"/><text class="ti" x="329" y="144.5">FAM19A3</text></g>
<g id="n_BTRC"><ellipse class="ep" cx="430" cy="163" rx="19" ry="9"/><text class="ti" x="430" y="165.5">BTRC</text></g>
<g id="n_ATXN1"><ellipse class="e" cx="300" cy="233" rx="17" ry="8" style="fill:#f09a10"/><text class="ti" x="300" y="235.5">ATXN1</text></g>
<g id="n_FKBP5"><ellipse class="e" cx="83" cy="168" rx="17" ry="8"/><text class="ti" x="83" y="170.5">FKBP5</text></g>
<g id="n_MEOX2"><ellipse class="e" cx="79" cy="262" rx="18" ry="8"/><text class="ti" x="79" y="264.5">MEOX2</text></g>
<g id="n_ACTN2"><ellipse class="ep" cx="61" cy="288" rx="17" ry="8"/><text class="ti" x="61" y="290.5">ACTN2</text></g>
<g id="n_DLG4"><ellipse class="e" cx="151" cy="285" rx="17" ry="8"/><text class="ti" x="151" y="287.5">DLG4</text></g>
<g id="n_SOCS3"><ellipse class="e" cx="420" cy="265" rx="17" ry="8"/><text class="ti" x="420" y="267.5">SOCS3</text></g>
<g id="n_CASP8"><ellipse class="ep" cx="637" cy="304" rx="17" ry="8"/><text class="ti" x="637" y="306.5">CASP8</text></g>
<g id="n_SYNCRIP"><ellipse class="e" cx="466" cy="337" rx="20" ry="8"/><text class="ti" x="466" y="339.5">SYNCRIP</text></g>
<g id="n_NLGN3"><ellipse class="e" cx="380" cy="328" rx="18" ry="8"/><text class="ti" x="380" y="330.5">NLGN3</text></g>
<g id="n_CDC42"><ellipse class="ep" cx="384" cy="382" rx="18" ry="8"/><text class="ti" x="384" y="384.5">CDC42</text></g>
<g id="n_SSX2IP"><ellipse class="eg" cx="325" cy="388" rx="18" ry="8"/><text class="ti" x="325" y="390.5">SSX2IP</text></g>
<g id="n_EEF1A1"><ellipse class="e" cx="220" cy="383" rx="17" ry="8"/><text class="ti" x="220" y="385.5">EEF1A1</text></g>
<g id="n_PLSCR1"><ellipse class="eg" cx="78" cy="395" rx="17" ry="8"/><text class="ti" x="78" y="397.5">PLSCR1</text></g>
<g id="n_FOXJ1"><ellipse cx="338" cy="300" rx="25" ry="18" fill="#ff0000" stroke="#333" stroke-width=".9"/><text x="338" y="304" style="font-size:11px">FOXJ1</text></g>
</g>
<g id="colorbar">
<rect x="531" y="435" width="169" height="21" fill="url(#fc)" stroke="#555" stroke-width=".6"/>
<line x1="531" y1="459" x2="700" y2="459" stroke="#666" stroke-width=".5"/>
<rect x="597" y="456.5" width="36" height="5" fill="#fff"/>
<text class="fb" x="535" y="464.5">-3.5</text><text class="fb" x="587" y="464.5">2.0</text><text class="fb" x="691" y="464.5">12.87</text><text class="fb" x="615" y="461">Fold Change</text>
</g>
<g id="legend">
<line x1="0" y1="470" x2="710" y2="470" stroke="#7090c0" stroke-width=".8" stroke-dasharray="3 1.5 1 1.5"/>
<rect x="347" y="482" width="341" height="120" fill="#f5f5f5"/>
<rect x="19" y="477" width="48" height="12" fill="#fff" stroke="#111" stroke-width=".9"/><text class="lb" x="43" y="486.5">Pathway</text>
<line x1="75" y1="483" x2="118" y2="483" stroke="#333" stroke-width=".7"/><circle cx="75" cy="483" r="1.6"/>
<ellipse cx="137" cy="483" rx="19" ry="6.5" fill="#fff" stroke="#111" stroke-width=".8"/><text class="lb" x="137" y="486.5">Protein</text>
<text class="ld" x="88" y="497">Protein  involved in</text><text class="ld" x="88" y="509">cilia  asociated pathway</text>
<rect x="16" y="520" width="68" height="14" fill="#fff" stroke="#111" stroke-width="1.2"/><text class="lb" x="50" y="530.5">GO category</text>
<line x1="87" y1="527" x2="108" y2="527.5" stroke="#333" stroke-width=".7"/><circle cx="87" cy="527" r="1.6"/>
<ellipse cx="138" cy="528" rx="30" ry="10" fill="#f7b500" stroke="#333" stroke-width=".8"/><text class="lb" x="138" y="531.5">IIP-Effector</text>
<text class="ld" x="88" y="548">GO category associated</text><text class="ld" x="88" y="559.5">with IIP-effector</text>
<ellipse cx="47" cy="572" rx="22" ry="7" fill="#fff" stroke="#111" stroke-width=".8"/><text class="lb" x="47" y="575.5">Protein</text>
<line x1="69" y1="572" x2="106" y2="572.5" stroke="#333" stroke-width=".7"/>
<ellipse cx="136" cy="572.5" rx="30" ry="11" fill="#f7b500" stroke="#a8e070" stroke-width="1.2"/><text class="lb" x="136" y="576">IIP-Effector</text>
<text class="ld" x="91" y="591">Primary interactor</text><text class="ld" x="91" y="603">(cilia expressed) of IIP-effector</text>
<rect x="177" y="477" width="53" height="15" fill="#fff" stroke="#111" stroke-width=".9"/><text class="lb" x="203.5" y="488">Pathway</text>
<line x1="234" y1="484.5" x2="273" y2="485" stroke="#c060e0" stroke-width="1"/><circle cx="234" cy="484.5" r="1.6"/>
<ellipse cx="304.5" cy="485.5" rx="31" ry="10.5" fill="#f7b500" stroke="#6a3ad0" stroke-width="1.2"/><text class="lb" x="304.5" y="489">IIP-Effector</text>
<text class="ld" x="253" y="506">IIP-effector gene  directly involved</text><text class="ld" x="252" y="517">in cilia associated pathway</text>
<ellipse cx="206" cy="535" rx="24" ry="7" fill="#ee1111" stroke="#333" stroke-width=".7"/><text class="lb" x="206" y="538.5" style="fill:#500">FOXJ1</text>
<line x1="230" y1="535" x2="273" y2="534.5" stroke="#25dede" stroke-width="1.5" marker-end="url(#arr)"/>
<ellipse cx="303.5" cy="534" rx="30" ry="11" fill="#f7b500" stroke="#333" stroke-width=".8"/><text class="lb" x="303.5" y="537.5">IIP-Effector</text>
<text class="ld" x="255" y="555">Gene  directly regulated by FOXJ1</text>
<ellipse cx="206" cy="577.5" rx="24" ry="6.5" fill="#ee1111" stroke="#333" stroke-width=".7"/><text class="lb" x="206" y="581" style="fill:#500">FOXJ1</text>
<line x1="230" y1="577.5" x2="273" y2="577.5" stroke="#25dede" stroke-width="1.5" stroke-dasharray="4 2.5" marker-end="url(#arr)"/>
<ellipse cx="303.5" cy="577.5" rx="30" ry="11" fill="#f7b500" stroke="#333" stroke-width=".8"/><text class="lb" x="303.5" y="581">IIP-Effector</text>
<text class="ld" x="255" y="598">Gene  indirectly regulated by FOXJ1</text>
<rect x="365" y="488" width="71" height="17" fill="#fff" stroke="#111" stroke-width="1"/><text class="lb" x="400.5" y="500">GO category</text>
<text class="ld" x="401" y="515">Cilia associated</text><text class="ld" x="401" y="526">GO category</text>
<rect x="377" y="536" width="44" height="14" rx="2" fill="#fff" stroke="#111" stroke-width=".9"/><text class="lb" x="399" y="546.5">Pathway</text>
<text class="ld" x="402" y="561">Pathway  associated</text><text class="ld" x="402" y="572">with ciliary function</text>
<ellipse cx="393.5" cy="587.5" rx="20.5" ry="7.5" fill="#fff" stroke="#111" stroke-width=".8"/><text class="lb" x="393.5" y="591">FIGp</text>
<text class="lb" x="419" y="591" style="text-anchor:start">FIG encoded protein(s) interacting with IIP-effector</text>
<ellipse cx="503" cy="498" rx="31.5" ry="8.7" fill="#f7b500" stroke="#6a3ad0" stroke-width="1.2"/><text class="lb" x="503" y="501.5">IIP-Effector</text>
<text class="ld" x="504" y="519">Gene  identified</text><text class="ld" x="507" y="529.5">as IIP-Effector</text>
<ellipse cx="616" cy="497.5" rx="22" ry="8.5" fill="#fff" stroke="#4a3ad0" stroke-width="1"/><text class="lb" x="616" y="501">Protein</text>
<text class="ld" x="618" y="519">Differentially expressed</text><text class="ld" x="618" y="529.5">gene in PCD</text>
<ellipse cx="503" cy="544" rx="22" ry="8" fill="#fff" stroke="#111" stroke-width=".9"/><text class="lb" x="503" y="547.5">Protein</text>
<text class="ld" x="501" y="561">Primary interactor</text><text class="ld" x="506" y="572">of IIP-effector</text>
<ellipse cx="615.5" cy="541.7" rx="22" ry="6.7" fill="#fff" stroke="#90dc58" stroke-width="1"/><text class="lb" x="615.5" y="545">Protein</text>
<text class="ld" x="620" y="561">Gene  having known ciliary</text><text class="ld" x="620" y="572">associations (CCR dataset)</text>
</g>
</svg>
